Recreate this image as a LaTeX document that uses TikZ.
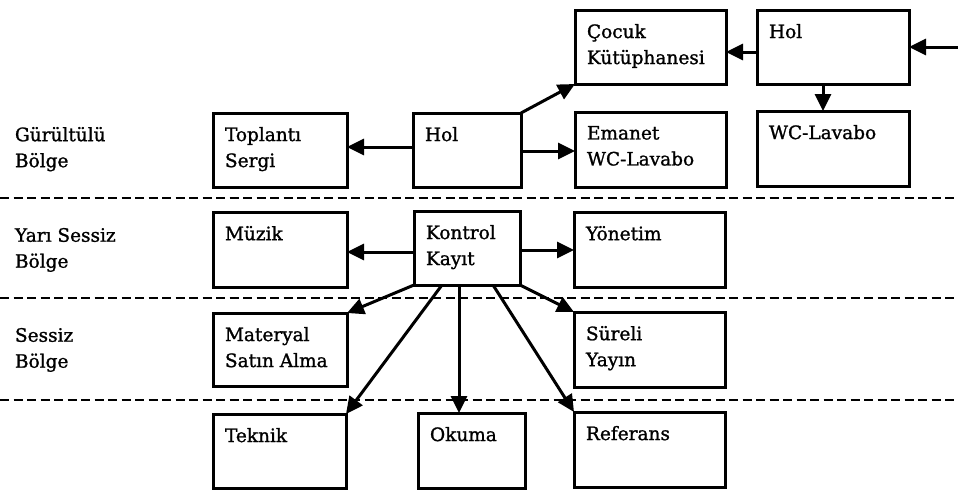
\documentclass[tikz,border=0pt]{standalone}
\usepackage{fontspec}
\setmainfont{DejaVu Serif}
\newfontfamily\heavyserif{DejaVu Serif}[FakeBold=1.2]
\usetikzlibrary{arrows.meta}
\newcommand\bx[6]{%
  \node[box, minimum width=#4pt, minimum height=#5pt] (#1) at (#2,#3) {};
  \node[lbl] (#1-t) at ([shift={(12pt,-14pt)}]#1.north west) {#6};}
\begin{document}
\begin{tikzpicture}[x=1pt,y=-1pt,
  box/.style={draw, line width=3pt, inner sep=0pt, outer sep=0pt, anchor=north west},
  lbl/.style={inner sep=0pt, outer sep=0pt, anchor=north west, align=left, font=\heavyserif\fontsize{18.5}{26}\selectfont},
  arr/.style={line width=3pt, -{Triangle[length=17pt,width=16pt]}},
  zone/.style={line width=2.6pt, dash pattern=on 9pt off 4.5pt}]
\useasboundingbox[fill=white] (0,0) rectangle (958,491);

% zone separators
\draw[zone] (0,198) -- (958,198);
\draw[zone] (0,298) -- (958,298);
\draw[zone] (0,400) -- (958,400);

% zone labels
\node[lbl] (z1) at (15,127) {Gürültülü\\Bölge};
\node[lbl] (z2) at (15,228) {Yarı Sessiz\\Bölge};
\node[lbl] (z3) at (15,328) {Sessiz\\Bölge};

% boxes
\bx{coc}{575}{10}{151}{74}{Çocuk\\Kütüphanesi}
\bx{holR}{757}{10}{152}{74}{Hol}
\bx{wcR}{757}{111}{152}{75}{WC-Lavabo}
\bx{eman}{575}{112}{151}{75}{Emanet\\WC-Lavabo}
\bx{topl}{213}{113}{134}{74}{Toplantı\\Sergi}
\bx{holM}{413}{113}{108}{74}{Hol}
\bx{muz}{213}{212}{134}{75}{Müzik}
\bx{kon}{414}{211}{106}{74}{Kontrol\\Kayıt}
\bx{yon}{574}{212}{151}{75}{Yönetim}
\bx{mat}{213}{313}{134}{73}{Materyal\\Satın Alma}
\bx{sur}{574}{312}{151}{75}{Süreli\\Yayın}
\bx{tek}{213}{414}{133}{74}{Teknik}
\bx{oku}{418}{413}{107}{75}{Okuma}
\bx{ref}{574}{412}{151}{75}{Referans}

% connectors
\coordinate (in) at (958,47);
\draw[arr] (in) -- (in -| holR.east);
\draw[arr] ([yshift=-5pt]holR.west) -- ([yshift=-5pt]holR.west -| coc.east);
\draw[arr] ([xshift=-10pt]holR.south) -- ([xshift=-10pt]holR.south |- wcR.north);
\draw[arr] (holM.north east) -- (coc.south west);
\draw[arr] ([yshift=3pt]holM.west) -- ([yshift=3pt]holM.west -| topl.east);
\draw[arr] ([yshift=-1pt]holM.east) -- ([yshift=-1pt]holM.east -| eman.west);
\draw[arr] ([yshift=-4pt]kon.west) -- ([yshift=-4pt]kon.west -| muz.east);
\draw[arr] ([yshift=-2pt]kon.east) -- ([yshift=-2pt]kon.east -| yon.west);
\draw[arr] (kon.south west) -- (mat.north east);
\draw[arr] (kon.south east) -- (sur.north west);
\draw[arr] ([xshift=-25pt]kon.south) -- (tek.north east);
\draw[arr] ([xshift=-8pt]kon.south) -- ([xshift=-8pt]kon.south |- oku.north);
\draw[arr] ([xshift=26pt]kon.south) -- (ref.north west);
\end{tikzpicture}
\end{document}
